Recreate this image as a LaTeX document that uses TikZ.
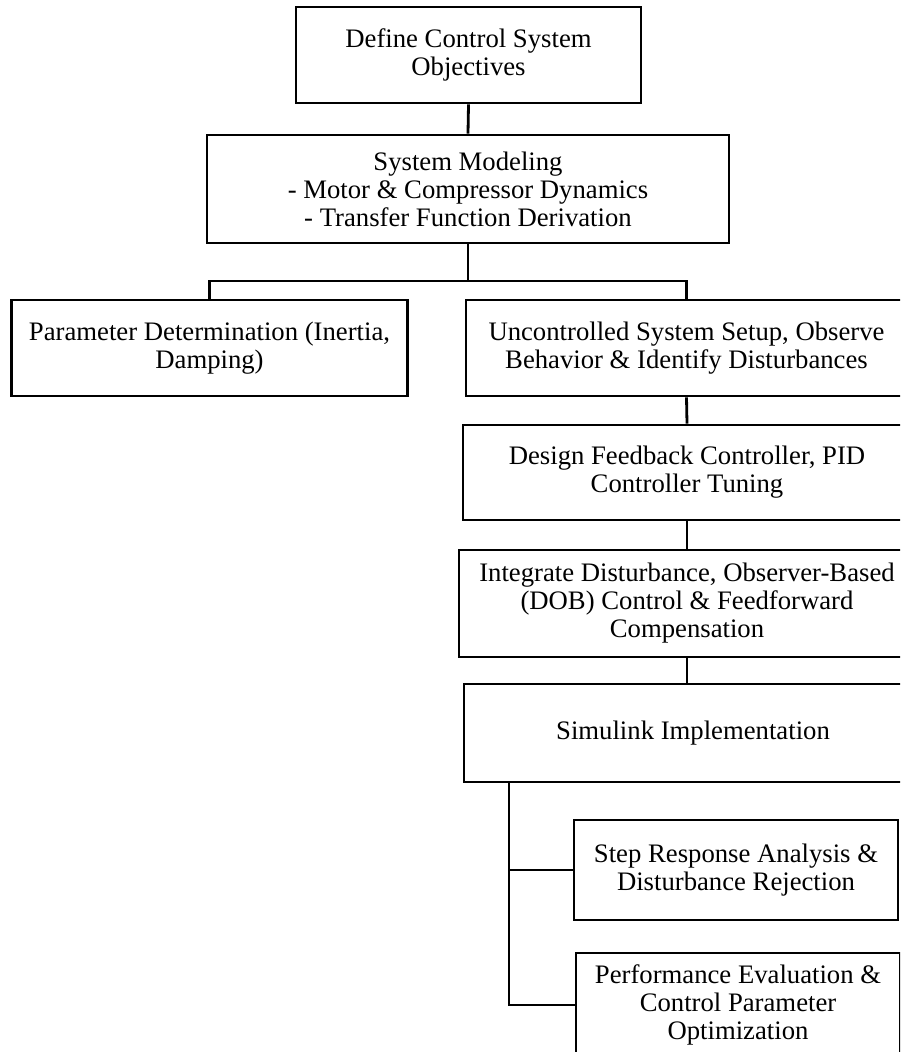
\documentclass[tikz,border=0pt]{standalone}
\usepackage{fontspec}
\setmainfont{Liberation Serif}
\begin{document}
\begin{tikzpicture}[x=1pt,y=-1pt,
  box/.style={draw, line width=2.8pt, align=center, inner sep=0pt,
    font=\fontsize{26.7}{28}\selectfont},
  conn/.style={line width=2.8pt}]
\clip (0,0) rectangle (900,1052);
\fill[white] (0,0) rectangle (900,1052);
\node[box, minimum width=345pt, minimum height=96pt] (obj) at (468.5,55) {Define Control System\\Objectives};
\node[box, minimum width=522pt, minimum height=108pt] (model) at (468,189) {System Modeling\\- Motor \& Compressor Dynamics\\- Transfer Function Derivation};
\node[box, minimum width=396pt, minimum height=96pt] (param) at (209.5,348) {Parameter Determination (Inertia,\\Damping)};
\node[box, minimum width=441pt, minimum height=96pt] (uncon) at (686.5,348) {Uncontrolled System Setup, Observe\\Behavior \& Identify Disturbances};
\node[box, minimum width=448pt, minimum height=95pt] (design) at (687,472.5) {Design Feedback Controller, PID\\Controller Tuning};
\node[box, minimum width=456pt, minimum height=107pt] (integ) at (687,603.5) {Integrate Disturbance, Observer-Based\\(DOB) Control \& Feedforward\\Compensation};
\node[box, minimum width=458pt, minimum height=98pt] (simu) at (693,733) {Simulink Implementation};
\node[box, minimum width=324pt, minimum height=100pt] (step) at (736,870) {Step Response Analysis \&\\Disturbance Rejection};
\node[box, minimum width=324pt, minimum height=104pt] (perf) at (738,1005) {Performance Evaluation \&\\Control Parameter\\Optimization};
\coordinate (j1) at (468,281);
\coordinate (s0) at (509,782);
\draw[conn] (obj.south) -- (model.north);
\draw[conn] (model.south) -- (j1);
\draw[conn] (param.north) -- (param.north |- j1) -- (uncon.north |- j1) -- (uncon.north);
\draw[conn] (uncon.south) -- (design.north);
\draw[conn] (design.south) -- (integ.north);
\draw[conn] (integ.south) -- (integ.south |- simu.north);
\draw[conn] (s0) -- (s0 |- perf.west) -- (perf.west);
\draw[conn] (s0 |- step.west) -- (step.west);
\end{tikzpicture}
\end{document}
